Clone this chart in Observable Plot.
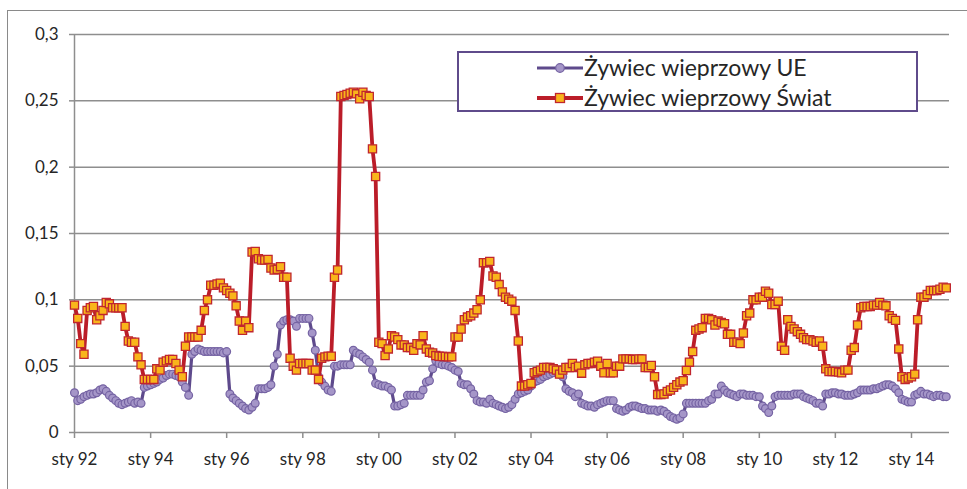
<!DOCTYPE html>
<html>
<head>
<meta charset="utf-8">
<script src="https://cdn.jsdelivr.net/npm/d3@7"></script>
<script src="https://cdn.jsdelivr.net/npm/@observablehq/plot@0.6"></script>
<style>
  body { margin: 0; background: #fff; }
  #wrap { position: relative; width: 967px; height: 489px; overflow: hidden; font-family: Lato, sans-serif; }
  #frame { position: absolute; left: 7px; top: 10px; width: 990px; height: 500px; border: 1px solid #8a8a8a; box-sizing: border-box; }
  #chart { position: absolute; left: 0; top: 0; }
  #legend { position: absolute; left: 457px; top: 51px; width: 461px; height: 61px; border: 2px solid #5f4b8b; background: #fff; box-sizing: border-box; }
  .row { position: absolute; left: 0; height: 30px; }
  .row svg { position: absolute; left: 78px; top: 0; }
  .row span { position: absolute; left: 125px; top: -1px; white-space: nowrap; font-size: 23px; color: #262626; line-height: 30px; }
</style>
</head>
<body>
<div id="wrap">
  <div id="frame"></div>
  <div id="chart"></div>
  <div id="legend"></div>
</div>
<script>
// ---- data ----
const startYear = 1992;
const seriesNames = ["Żywiec wieprzowy UE", "Żywiec wieprzowy Świat"];
const euValues = [
  0.030,0.024,0.025,0.027,0.028,0.029,0.029,0.030,0.032,0.033,0.031,0.028, // 1992
  0.026,0.024,0.022,0.021,0.022,0.023,0.024,0.022,0.023,0.022,0.034,0.035, // 1993
  0.036,0.037,0.038,0.040,0.041,0.043,0.044,0.044,0.043,0.042,0.038,0.034, // 1994
  0.028,0.059,0.061,0.063,0.062,0.061,0.061,0.061,0.061,0.061,0.061,0.060, // 1995
  0.061,0.029,0.026,0.024,0.022,0.020,0.018,0.017,0.019,0.022,0.033,0.033, // 1996
  0.033,0.034,0.036,0.050,0.059,0.081,0.084,0.085,0.085,0.084,0.080,0.086, // 1997
  0.086,0.086,0.086,0.075,0.062,0.042,0.038,0.035,0.032,0.031,0.050,0.050, // 1998
  0.051,0.051,0.051,0.051,0.062,0.060,0.059,0.057,0.055,0.053,0.047,0.037, // 1999
  0.036,0.035,0.035,0.034,0.032,0.020,0.020,0.021,0.022,0.028,0.028,0.028, // 2000
  0.028,0.028,0.032,0.038,0.039,0.048,0.054,0.052,0.051,0.051,0.050,0.049, // 2001
  0.047,0.046,0.037,0.036,0.036,0.033,0.029,0.024,0.023,0.023,0.022,0.025, // 2002
  0.022,0.021,0.020,0.019,0.018,0.019,0.021,0.025,0.029,0.030,0.031,0.032, // 2003
  0.035,0.038,0.039,0.040,0.042,0.043,0.044,0.045,0.046,0.044,0.042,0.033, // 2004
  0.031,0.030,0.027,0.029,0.022,0.021,0.020,0.020,0.019,0.021,0.022,0.023, // 2005
  0.024,0.024,0.024,0.018,0.017,0.016,0.017,0.019,0.020,0.020,0.019,0.018, // 2006
  0.018,0.017,0.017,0.017,0.016,0.017,0.016,0.014,0.012,0.011,0.010,0.011, // 2007
  0.014,0.022,0.022,0.022,0.022,0.022,0.022,0.022,0.024,0.025,0.029,0.029, // 2008
  0.035,0.032,0.030,0.029,0.028,0.027,0.029,0.029,0.028,0.028,0.028,0.027, // 2009
  0.027,0.020,0.018,0.015,0.020,0.027,0.028,0.028,0.028,0.028,0.028,0.029, // 2010
  0.029,0.029,0.027,0.026,0.025,0.024,0.022,0.022,0.020,0.029,0.029,0.030, // 2011
  0.030,0.029,0.029,0.028,0.028,0.028,0.029,0.030,0.032,0.032,0.032,0.032, // 2012
  0.033,0.033,0.034,0.035,0.036,0.036,0.035,0.033,0.030,0.025,0.024,0.023, // 2013
  0.023,0.028,0.029,0.031,0.029,0.029,0.028,0.027,0.028,0.028,0.027,0.027  // 2014
];
const worldValues = [
  0.096,0.086,0.067,0.059,0.092,0.094,0.095,0.085,0.088,0.092,0.098,0.097, // 1992
  0.094,0.094,0.094,0.094,0.080,0.069,0.068,0.068,0.057,0.051,0.040,0.040, // 1993
  0.040,0.040,0.048,0.047,0.053,0.054,0.055,0.055,0.052,0.047,0.042,0.065, // 1994
  0.072,0.072,0.072,0.072,0.077,0.092,0.100,0.111,0.111,0.112,0.1125,0.109, // 1995
  0.107,0.105,0.103,0.0955,0.084,0.077,0.084,0.079,0.136,0.1365,0.131,0.130, // 1996
  0.130,0.1305,0.124,0.1225,0.123,0.125,0.117,0.117,0.056,0.050,0.047,0.052, // 1997
  0.052,0.052,0.052,0.047,0.047,0.040,0.056,0.057,0.0575,0.0575,0.117,0.1225, // 1998
  0.2533,0.254,0.2548,0.2557,0.2565,0.2553,0.2515,0.2565,0.254,0.2533,0.2138,0.193, // 1999
  0.068,0.067,0.058,0.063,0.073,0.072,0.070,0.066,0.066,0.064,0.064,0.062, // 2000
  0.067,0.066,0.073,0.063,0.0605,0.060,0.058,0.0575,0.0573,0.0573,0.057,0.057, // 2001
  0.072,0.072,0.078,0.085,0.087,0.088,0.090,0.0925,0.100,0.128,0.128,0.129, // 2002
  0.118,0.117,0.1115,0.106,0.102,0.1005,0.099,0.092,0.069,0.035,0.035,0.036, // 2003
  0.037,0.045,0.046,0.047,0.049,0.049,0.049,0.048,0.047,0.044,0.047,0.049, // 2004
  0.049,0.052,0.049,0.050,0.0447,0.051,0.052,0.052,0.053,0.0537,0.050,0.045, // 2005
  0.052,0.045,0.045,0.050,0.050,0.0555,0.0555,0.0555,0.055,0.055,0.0555,0.0555, // 2006
  0.049,0.049,0.0505,0.042,0.0286,0.0286,0.029,0.031,0.032,0.034,0.036,0.038, // 2007
  0.039,0.0467,0.053,0.061,0.077,0.078,0.079,0.086,0.086,0.085,0.081,0.084, // 2008
  0.083,0.082,0.074,0.074,0.068,0.068,0.067,0.075,0.088,0.090,0.100,0.100, // 2009
  0.102,0.102,0.1065,0.105,0.0965,0.0965,0.099,0.065,0.062,0.085,0.080,0.078, // 2010
  0.076,0.074,0.0714,0.070,0.070,0.069,0.068,0.069,0.065,0.048,0.046,0.046, // 2011
  0.046,0.0455,0.045,0.047,0.047,0.062,0.064,0.081,0.094,0.095,0.095,0.095, // 2012
  0.096,0.096,0.098,0.096,0.0955,0.088,0.086,0.0845,0.063,0.042,0.040,0.041, // 2013
  0.042,0.044,0.085,0.102,0.102,0.104,0.107,0.107,0.107,0.108,0.1095,0.109  // 2014
];
const xTickLabels = ["sty 92","sty 94","sty 96","sty 98","sty 00","sty 02","sty 04","sty 06","sty 08","sty 10","sty 12","sty 14"];
const yTicks = [0, 0.05, 0.1, 0.15, 0.2, 0.25, 0.3];
const yTickLabels = ["0", "0,05", "0,1", "0,15", "0,2", "0,25", "0,3"];

// ---- colours ----
const euLine = "#5e4a8c", euFill = "#a596c8", euStroke = "#7563a3";
const wLine = "#bb1d29", wFill = "#f9b51b", wStroke = "#c0262e";
const gridColor = "#8e8e8e";

// ---- build tables ----
const monthDate = i => new Date(Date.UTC(startYear, i, 1));
const eu = euValues.map((v, i) => ({date: monthDate(i), v}));
const world = worldValues.map((v, i) => ({date: monthDate(i), v}));
const xTicks = xTickLabels.map((_, i) => new Date(Date.UTC(startYear + 2 * i, 0, 1)));
const xLabelOf = new Map(xTicks.map((d, i) => [+d, xTickLabels[i]]));
const x0 = new Date(Date.UTC(startYear, 0, 1));
const x1 = new Date(Date.UTC(2015, 0, 1));

const chart = Plot.plot({
  width: 967, height: 489,
  marginLeft: 74, marginRight: 18, marginTop: 34, marginBottom: 57,
  x: {type: "utc", domain: [x0, x1], label: null},
  y: {domain: [0, 0.3], label: null},
  style: {fontFamily: "Lato, sans-serif", fontSize: "17px", color: "#262626", background: "transparent", overflow: "visible"},
  marks: [
    Plot.ruleY(yTicks, {stroke: gridColor, strokeWidth: 1.5}),
    Plot.ruleX([x0], {stroke: gridColor, strokeWidth: 1.5, y1: 0, y2: 0.3}),
    Plot.axisY({ticks: yTicks, tickFormat: d => yTickLabels[yTicks.indexOf(d)], tickSize: 5, tickPadding: 11, stroke: gridColor, strokeWidth: 1.5, fill: "#262626", fontSize: 17, label: null}),
    Plot.axisX({ticks: xTicks, tickFormat: d => xLabelOf.get(+d), tickSize: 6, tickPadding: 14, stroke: gridColor, strokeWidth: 1.5, fill: "#262626", fontSize: 17, label: null}),
    Plot.line(eu, {x: "date", y: "v", stroke: euLine, strokeWidth: 3.2}),
    Plot.dot(eu, {x: "date", y: "v", r: 3.9, fill: euFill, stroke: euStroke, strokeWidth: 1.2}),
    Plot.line(world, {x: "date", y: "v", stroke: wLine, strokeWidth: 3.8}),
    Plot.dot(world, {x: "date", y: "v", symbol: "square", r: 4.6, fill: wFill, stroke: wStroke, strokeWidth: 1.3})
  ]
});
document.getElementById("chart").appendChild(chart);

// ---- legend ----
const legend = document.getElementById("legend");
const rows = [
  {name: seriesNames[0], line: euLine, fill: euFill, stroke: euStroke, shape: "circle", top: 0},
  {name: seriesNames[1], line: wLine, fill: wFill, stroke: wStroke, shape: "square", top: 30}
];
rows.forEach(r => {
  const row = document.createElement("div");
  row.className = "row";
  row.style.top = r.top + "px";
  row.style.width = "100%";
  const marker = r.shape === "circle"
    ? `<circle cx="23" cy="15" r="4.3" fill="${r.fill}" stroke="${r.stroke}" stroke-width="1.2"/>`
    : `<rect x="18.5" y="10.5" width="9" height="9" fill="${r.fill}" stroke="${r.stroke}" stroke-width="1.3"/>`;
  row.innerHTML = `<svg width="46" height="30"><line x1="0" y1="15" x2="46" y2="15" stroke="${r.line}" stroke-width="${r.shape === "circle" ? 3.2 : 3.8}"/>${marker}</svg><span>${r.name}</span>`;
  legend.appendChild(row);
});
</script>
</body>
</html>
